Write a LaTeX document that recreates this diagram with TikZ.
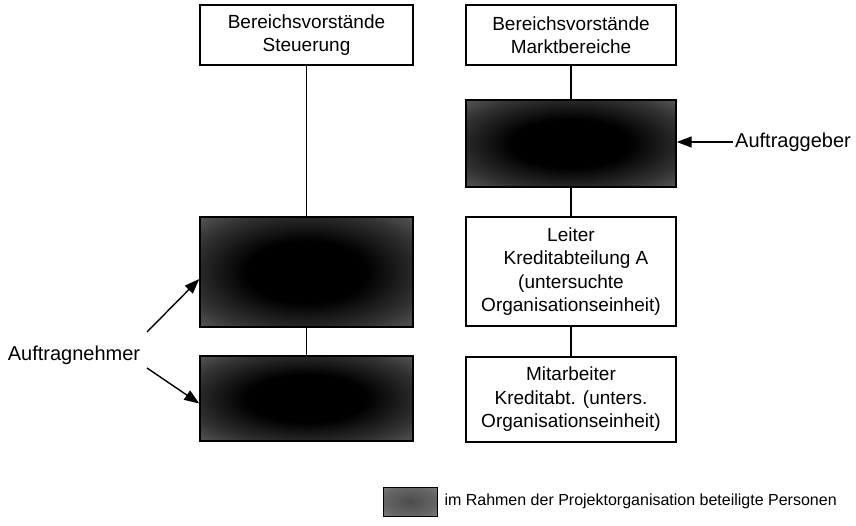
\documentclass[tikz,border=0pt]{standalone}
\usepackage{fontspec}
\setmainfont{Liberation Sans}
\usetikzlibrary{arrows.meta}
\pgfdeclareradialshading{darkscan}{\pgfpoint{0bp}{0bp}}{color(0bp)=(black); color(14bp)=(black); color(28bp)=(black!80); color(40bp)=(black!58); color(50bp)=(black!45)}
\pgfdeclareradialshading{legscan}{\pgfpoint{0bp}{0bp}}{color(0bp)=(black!70); color(25bp)=(black!60); color(50bp)=(black!40)}
\tikzset{
  orgbox/.style={draw=black, line width=1.4pt, fill=white, align=center, inner sep=2pt,
    font=\fontsize{19}{23.5}\selectfont},
  darkbox/.style={draw=black, line width=1.4pt, shading=darkscan},
  conn/.style={line width=1.4pt},
  arr/.style={line width=1.4pt, -{Triangle[length=15pt,width=11pt]}},
  lbl/.style={font=\fontsize{20}{24}\selectfont, inner sep=1pt},
}
\begin{document}
\begin{tikzpicture}[x=1pt,y=-1pt]
\useasboundingbox (0,0) rectangle (856,525);
% left column
\node[orgbox, minimum width=213pt, minimum height=60pt] (tl) at (306.5,35) {Bereichsvorstände\\Steuerung};
\node[darkbox, minimum width=213pt, minimum height=110pt] (ld1) at (306.5,272) {};
\node[darkbox, minimum width=213pt, minimum height=85pt] (ld2) at (306.5,398.5) {};
% right column
\node[orgbox, minimum width=210pt, minimum height=60pt] (tr) at (571,35) {Bereichsvorstände\\Marktbereiche};
\node[darkbox, minimum width=210pt, minimum height=87pt] (rd1) at (571,143.5) {};
\node[orgbox, minimum width=210pt, minimum height=109pt] (lei) at (571,271.5) {Leiter\\\hspace*{10pt}Kreditabteilung A\\(untersuchte\\Organisationseinheit)};
\node[orgbox, minimum width=210pt, minimum height=85pt] (mit) at (571,399.5) {Mitarbeiter\\Kreditabt. (unters.\\Organisationseinheit)};
% connectors
\draw[conn] (tl.south) -- (tl.south |- ld1.north);
\draw[conn] (ld1.south) -- (ld1.south |- ld2.north);
\draw[conn] (tr.south) -- (tr.south |- rd1.north);
\draw[conn] (rd1.south) -- (rd1.south |- lei.north);
\draw[conn] (lei.south) -- (lei.south |- mit.north);
% labels
\node[lbl] (an) at (74,355) {Auftragnehmer};
\coordinate (a1) at (147,332);
\coordinate (a2) at (147,368);
\draw[arr] (a1) -- ([yshift=-7pt]ld1.west);
\draw[arr] (a2) -- ([yshift=-5pt]ld2.west);
\node[lbl, anchor=west] (ag) at (734,142) {Auftraggeber};
\draw[arr] ([xshift=-1pt]ag.west) -- (ag.west -| rd1.east);
% legend
\node[draw=black, line width=0.6pt, shading=legscan, minimum width=54pt, minimum height=29pt] (lg) at (410,501.5) {};
\node[anchor=west, inner sep=0pt, font=\fontsize{16}{20}\selectfont] (lgt) at ([xshift=7pt]lg.east) {im Rahmen der Projektorganisation beteiligte Personen};
\end{tikzpicture}
\end{document}
